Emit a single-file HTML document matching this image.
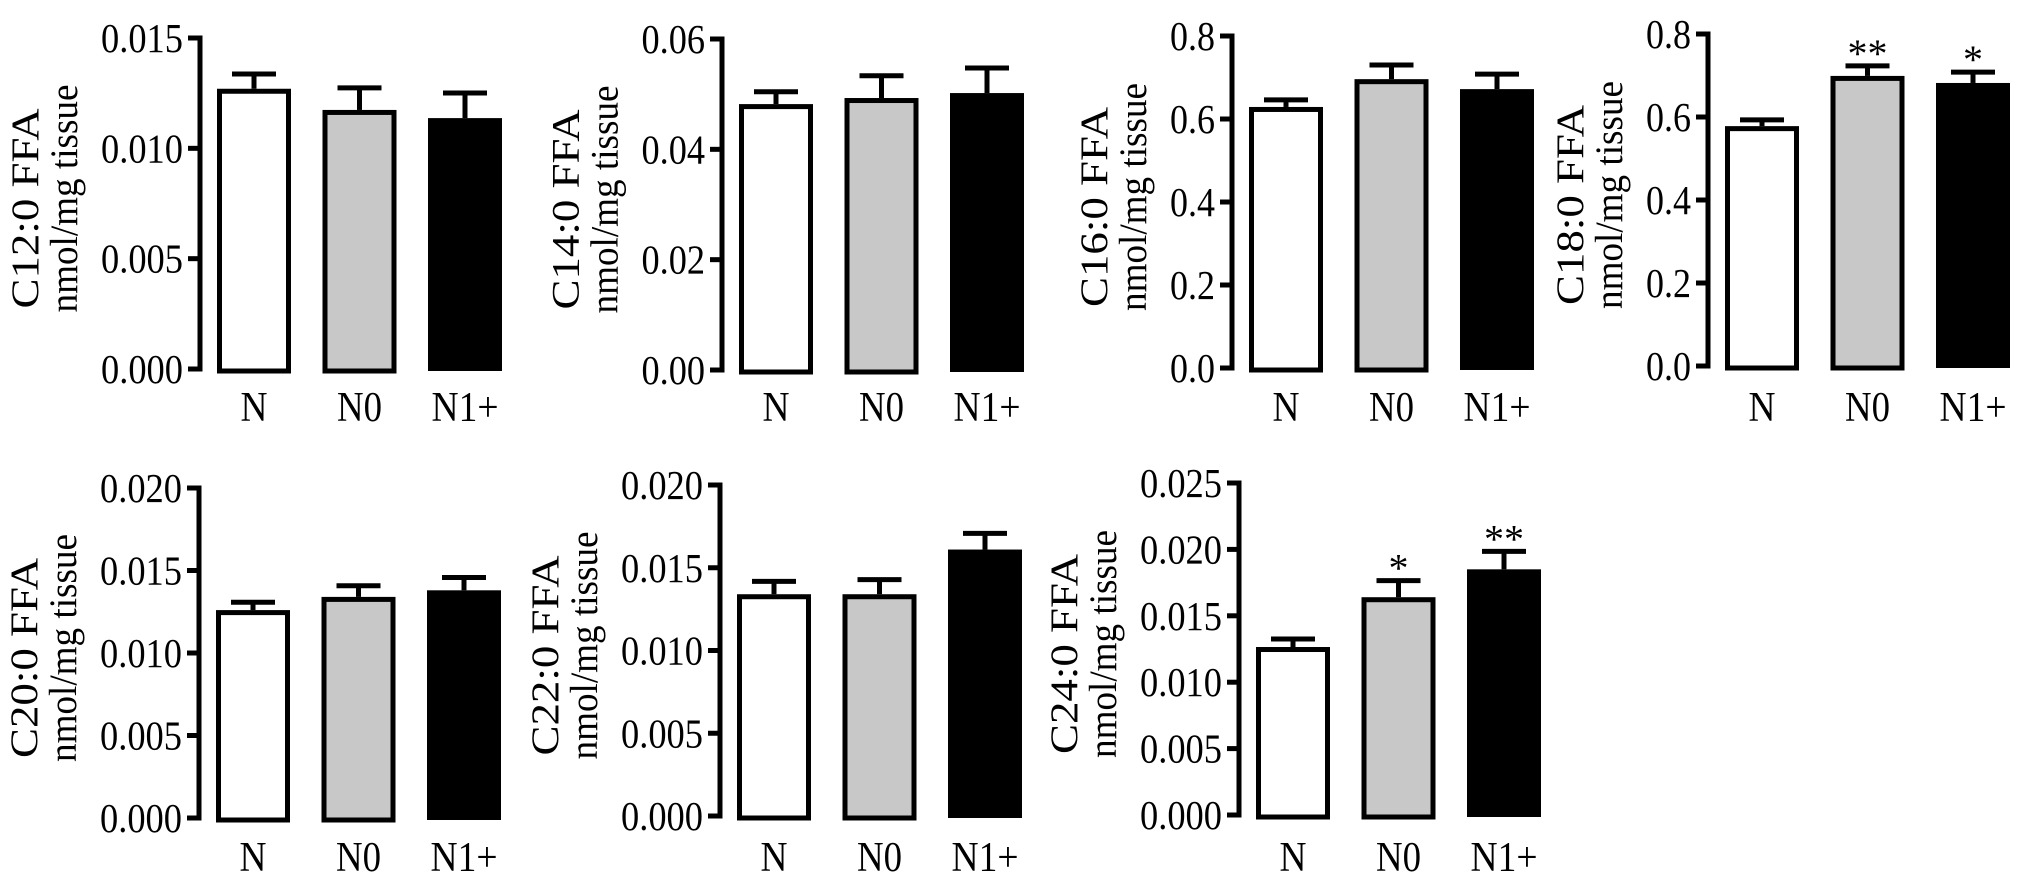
<!DOCTYPE html>
<html>
<head>
<meta charset="utf-8">
<style>
html,body{margin:0;padding:0;background:#fff;}
svg{display:block;}
text{font-family:"Liberation Serif","Times New Roman",serif;fill:#000;}
</style>
</head>
<body>
<svg id="fig" width="2031" height="888" viewBox="0 0 2031 888" xmlns="http://www.w3.org/2000/svg"></svg>
<script>
// ---- data ----
const groups = ["N", "N0", "N1+"];
const panelTitles = ["C12:0 FFA", "C14:0 FFA", "C16:0 FFA", "C18:0 FFA", "C20:0 FFA", "C22:0 FFA", "C24:0 FFA"];
const c12Means = [0.0127, 0.01174, 0.01137];
const c12ErrTops = [0.01346, 0.01283, 0.0126];
const c14Means = [0.0482, 0.0493, 0.0502];
const c14ErrTops = [0.0508, 0.0537, 0.0551];
const c16Means = [0.629, 0.696, 0.672];
const c16ErrTops = [0.651, 0.735, 0.713];
const c18Means = [0.578, 0.699, 0.682];
const c18ErrTops = [0.598, 0.728, 0.713];
const c20Means = [0.0126, 0.0134, 0.0138];
const c20ErrTops = [0.0132, 0.0142, 0.0147];
const c22Means = [0.0134, 0.0134, 0.0161];
const c22ErrTops = [0.0143, 0.0144, 0.0172];
const c24Means = [0.01265, 0.0164, 0.0185];
const c24ErrTops = [0.0134, 0.0178, 0.0200];
const c18Stars = ["", "**", "*"];
const c24Stars = ["", "*", "**"];
const noStars = ["", "", ""];
const tickLabels3 = ["0.000", "0.005", "0.010", "0.015"];
const tickLabels14 = ["0.00", "0.02", "0.04", "0.06"];
const tickLabelsFrac = ["0.0", "0.2", "0.4", "0.6", "0.8"];
const tickLabels20 = ["0.000", "0.005", "0.010", "0.015", "0.020"];
const tickLabels25 = ["0.000", "0.005", "0.010", "0.015", "0.020", "0.025"];
const axisMaxes = [0.015, 0.06, 0.8, 0.8, 0.020, 0.020, 0.025];

// ---- layout (not data) ----
const layout = [
  {ax:200, top:38, zero:369},
  {ax:722, top:39, zero:370},
  {ax:1232, top:36, zero:368},
  {ax:1708, top:34, zero:366},
  {ax:199, top:488, zero:818},
  {ax:720, top:485, zero:816},
  {ax:1239, top:483, zero:815}
];
const panels = [
  {m:c12Means, e:c12ErrTops, t:tickLabels3, s:noStars},
  {m:c14Means, e:c14ErrTops, t:tickLabels14, s:noStars},
  {m:c16Means, e:c16ErrTops, t:tickLabelsFrac, s:noStars},
  {m:c18Means, e:c18ErrTops, t:tickLabelsFrac, s:c18Stars},
  {m:c20Means, e:c20ErrTops, t:tickLabels20, s:noStars},
  {m:c22Means, e:c22ErrTops, t:tickLabels20, s:noStars},
  {m:c24Means, e:c24ErrTops, t:tickLabels25, s:c24Stars}
];
const fills = ["#ffffff", "#c8c8c8", "#000000"];
const xLabelW = {"N":27, "N0":45, "N1+":67};
const NS = "http://www.w3.org/2000/svg";
const svg = document.getElementById("fig");
function mk(tag, attrs, parent){
  const el = document.createElementNS(NS, tag);
  for (const k in attrs) el.setAttribute(k, attrs[k]);
  parent.appendChild(el);
  return el;
}
function labelWidth(s){ let w=0; for (const c of s) w += (c==='.') ? 8 : 18.5; return w; }

panels.forEach((p, pi) => {
  const L = layout[pi];
  const max = axisMaxes[pi];
  const y = v => L.zero - (v / max) * (L.zero - L.top);
  const g = mk("g", {}, svg);
  
  

  const axis = mk("line", {x1:L.ax, x2:L.ax, y1:L.top-2.5, y2:L.zero+2.5, stroke:"#000","stroke-width":5}, g);
  
  

  let maxLW = 0;
  const n = p.t.length;
  p.t.forEach((lab, i) => {
    const v = max * i / (n - 1);
    const ty = y(v);
    const tk = mk("line", {x1:L.ax-12, x2:L.ax, y1:ty, y2:ty, stroke:"#000","stroke-width":5}, g);
    
    
    const lw = labelWidth(lab);
    maxLW = Math.max(maxLW, lw);
    const t = mk("text", {x:L.ax-17, y:ty+14, "font-size":41, "text-anchor":"end", textLength:lw, lengthAdjust:"spacingAndGlyphs"}, g);
    t.textContent = lab;
    
    
  });

  const labelLeft = L.ax - 17 - maxLW;
  const cy = (L.top + L.zero) / 2 - 5;
  const l2x = labelLeft - 24, l1x = l2x - 39;
  const t1 = mk("text", {transform:`translate(${l1x},${cy+10}) rotate(-90) scale(1,0.85)`, "font-size":46, "text-anchor":"middle", textLength:200, lengthAdjust:"spacingAndGlyphs"}, g);
  t1.textContent = panelTitles[pi];
  
  
  const t2 = mk("text", {transform:`translate(${l2x},${cy}) rotate(-90) scale(1,0.85)`, "font-size":46, "text-anchor":"middle", textLength:228, lengthAdjust:"spacingAndGlyphs"}, g);
  t2.textContent = "nmol/mg tissue";
  
  

  groups.forEach((grp, i) => {
    const cx = L.ax + 54 + i * 105.5;
    const top = y(p.m[i]);
    const et = y(p.e[i]);
    const stem = mk("line", {x1:cx, x2:cx, y1:top, y2:et, stroke:"#000","stroke-width":5}, g);
    
    
    const cap = mk("line", {x1:cx-22, x2:cx+22, y1:et+2, y2:et+2, stroke:"#000","stroke-width":5}, g);
    
    
    let bar;
    if (i === 2) {
      bar = mk("rect", {x:cx-37, y:top, width:74, height:L.zero+2-top, fill:"#000"}, g);
    } else {
      bar = mk("rect", {x:cx-34.5, y:top+2.5, width:69, height:L.zero-top-0.5, fill:fills[i], stroke:"#000","stroke-width":5}, g);
    }
    
    
    const xl = mk("text", {x:cx, y:(pi < 4 ? 421 : 871), "font-size":42, "text-anchor":"middle", textLength:xLabelW[grp], lengthAdjust:"spacingAndGlyphs"}, g);
    xl.textContent = grp;
    
    
    if (p.s[i]) {
      const st = mk("text", {x:cx, y:et+3, "font-size":40, "text-anchor":"middle"}, g);
      st.textContent = p.s[i];
      
      
    }
  });
});
</script>
</body>
</html>
